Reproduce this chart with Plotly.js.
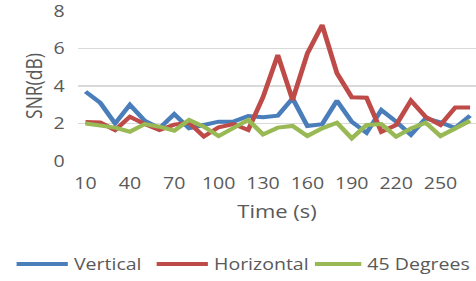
<!DOCTYPE html>
<html>
<head>
<meta charset="utf-8">
<script src="https://cdn.plot.ly/plotly-3.0.1.min.js"></script>
<style>
html,body{margin:0;padding:0;overflow:hidden;background:#fff;width:476px;height:281px;}
#chart{width:390px;height:281px;transform:scaleX(1.2205);transform-origin:0 0;}
</style>
</head>
<body>
<div id="chart"></div>
<script>
var times = [10,20,30,40,50,60,70,80,90,100,110,120,130,140,150,160,170,180,190,200,210,220,230,240,250,260,270];
var tickTimes = [10,40,70,100,130,160,190,220,250];
var tickLabels = ['10','40','70','100','130','160','190','220','250'];
var vertical = [3.7,3.1,2.0,3.0,2.15,1.75,2.5,1.75,1.92,2.1,2.1,2.4,2.33,2.42,3.34,1.87,1.96,3.22,2.1,1.5,2.72,2.1,1.4,2.28,2.06,1.76,2.42];
var horizontal = [2.08,2.05,1.65,2.36,1.97,1.65,1.94,2.04,1.3,1.8,1.97,1.65,3.4,5.65,3.25,5.74,7.25,4.68,3.4,3.37,1.56,1.92,3.22,2.35,1.92,2.86,2.86];
var degrees45 = [2.0,1.87,1.78,1.56,1.97,1.83,1.62,2.19,1.83,1.33,1.78,2.19,1.42,1.78,1.87,1.33,1.74,2.04,1.21,1.92,1.97,1.3,1.74,2.04,1.33,1.74,2.15];
var seriesNames = ['Vertical','Horizontal','45 Degrees'];
var colors = ['#4A7EBB','#BE4B48','#98B954'];
var legendIds = ['legend','legend2','legend3'];

var data = [vertical, horizontal, degrees45].map(function(ys, i){
  return {x: times, y: ys, type:'scatter', mode:'lines', name: seriesNames[i],
          legend: legendIds[i], line:{color: colors[i], width:4}};
});

var fam = '"Open Sans", "DejaVu Sans", sans-serif';
var font = {family:fam, size:16, color:'#595959'};
function leg(x, anchor, iw){
  return {orientation:'h', x:x, xanchor:anchor, y:-0.687, yanchor:'middle',
          font:font, itemwidth:iw, bgcolor:'rgba(0,0,0,0)'};
}
var layout = {
  width:390, height:281,
  margin:{l:64.4, r:0, t:11, b:120, pad:0},
  paper_bgcolor:'#fff', plot_bgcolor:'#fff',
  font: font,
  showlegend:true,
  xaxis:{
    range:[5,274], tickmode:'array', tickvals:tickTimes, ticktext:tickLabels,
    showgrid:false, zeroline:false, showline:false, ticks:'',
    ticklabelstandoff:11, ticklabeloverflow:'allow', tickfont:font,
    title:{text:'Time (s)', font:{family:fam,size:18,color:'#595959'}, standoff:12}
  },
  yaxis:{
    range:[0,8], tickvals:[0,2,4,6,8], ticks:'',
    showgrid:true, gridcolor:'#D9D9D9', gridwidth:1.5,
    zeroline:false, showline:false, ticklabelstandoff:10, ticklabeloverflow:'allow', tickfont:font,
    title:{text:'SNR(dB)', font:{family:fam,size:17.5,color:'#595959'}, standoff:4}
  },
  legend: leg(-0.170, 'left', 42),
  legend2: leg(0.182, 'left', 42),
  legend3: leg(1.0, 'right', 38)
};
Plotly.newPlot('chart', data, layout, {displayModeBar:false, staticPlot:true});
</script>
</body>
</html>
